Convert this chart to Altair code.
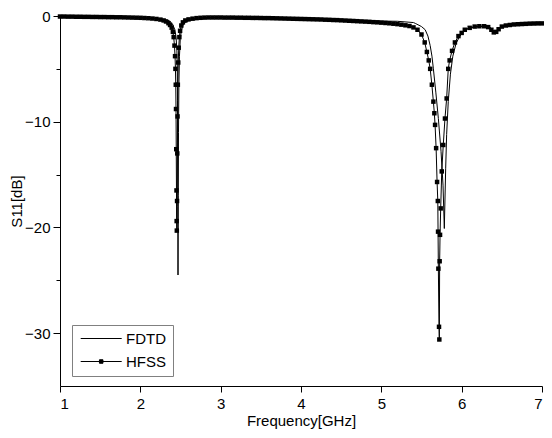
import altair as alt
import pandas as pd

# ---------------- data ----------------
fdtd_freq = [1.00, 1.30, 1.60, 1.90, 2.10, 2.20, 2.30, 2.36, 2.40, 2.43, 2.445, 2.455,
             2.460, 2.463, 2.465, 2.467, 2.469, 2.472, 2.475, 2.480, 2.487, 2.497,
             2.51, 2.53, 2.56, 2.60, 2.65, 2.70, 2.80, 2.90, 3.00, 3.20, 3.50, 4.00,
             4.50, 5.00, 5.20, 5.40, 5.423, 5.50, 5.546, 5.58, 5.608, 5.63, 5.648,
             5.678, 5.71, 5.743, 5.768, 5.784, 5.801, 5.813, 5.833, 5.86, 5.89, 5.93,
             5.97, 6.02, 6.08, 6.15, 6.22, 6.30, 6.35, 6.38, 6.41, 6.44, 6.47, 6.50,
             6.60, 6.80, 7.00]
fdtd_s11 = [-0.05, -0.07, -0.10, -0.14, -0.20, -0.25, -0.33, -0.45, -0.75, -1.3, -2.0, -3.2,
            -5.0, -8.0, -12.0, -18.0, -24.5, -17.0, -11.0, -6.5, -3.8, -2.2,
            -1.4, -0.9, -0.6, -0.45, -0.38, -0.33, -0.25, -0.15, -0.10, -0.12, -0.18, -0.27,
            -0.38, -0.48, -0.50, -0.62, -0.70, -1.0, -1.3, -1.9, -2.8, -3.8, -5.0,
            -7.2, -9.7, -12.8, -16.0, -20.1, -14.4, -11.2, -8.1, -5.5, -3.8, -2.6,
            -2.0, -1.5, -1.2, -1.05, -0.98, -0.98, -1.05, -1.25, -1.45, -1.4, -1.15, -0.95,
            -0.80, -0.68, -0.68]

hfss_freq = [1.00, 1.05, 1.10, 1.15, 1.20, 1.25, 1.30, 1.35, 1.40, 1.45, 1.50, 1.55,
             1.60, 1.65, 1.70, 1.75, 1.80, 1.85, 1.90, 1.95, 2.00, 2.05, 2.10, 2.15,
             2.20, 2.25, 2.29, 2.32, 2.35, 2.37, 2.39, 2.405, 2.415, 2.425, 2.432,
             2.437, 2.441, 2.444, 2.447, 2.450, 2.452, 2.454, 2.457, 2.460, 2.463,
             2.467, 2.472, 2.478, 2.486, 2.495, 2.51, 2.53, 2.56, 2.60, 2.65, 2.70,
             2.75, 2.80, 2.85, 2.90, 2.95, 3.00, 3.05, 3.10, 3.15, 3.20, 3.25, 3.30,
             3.35, 3.40, 3.45, 3.50, 3.55, 3.60, 3.65, 3.70, 3.75, 3.80, 3.85, 3.90,
             3.95, 4.00, 4.05, 4.10, 4.15, 4.20, 4.25, 4.30, 4.35, 4.40, 4.45, 4.50,
             4.55, 4.60, 4.65, 4.70, 4.75, 4.80, 4.85, 4.90, 4.95, 5.00, 5.05, 5.10,
             5.15, 5.20, 5.25, 5.30, 5.35, 5.40, 5.45, 5.50, 5.54, 5.567, 5.59, 5.608,
             5.629, 5.648, 5.66, 5.669, 5.682, 5.694, 5.703, 5.706, 5.710, 5.718,
             5.722, 5.726, 5.731, 5.739, 5.752, 5.771, 5.792, 5.813, 5.833, 5.85,
             5.88, 5.916, 5.96, 6.00, 6.039, 6.10, 6.162, 6.22, 6.28, 6.33, 6.37,
             6.40, 6.43, 6.46, 6.50, 6.55, 6.60, 6.65, 6.70, 6.75, 6.80, 6.85, 6.90,
             6.95, 7.00]
hfss_s11 = [-0.05, -0.05, -0.06, -0.06, -0.07, -0.07, -0.08, -0.08, -0.09, -0.09, -0.10, -0.10,
            -0.11, -0.11, -0.12, -0.12, -0.13, -0.14, -0.15, -0.16, -0.17, -0.19, -0.21, -0.24,
            -0.28, -0.34, -0.42, -0.52, -0.68, -0.85, -1.1, -1.5, -2.0, -2.8, -3.8,
            -5.0, -6.5, -8.8, -12.6, -16.5, -19.4, -20.3, -17.5, -13.0, -9.5,
            -6.5, -4.4, -3.0, -2.0, -1.4, -0.9, -0.6, -0.42, -0.32, -0.25, -0.20,
            -0.17, -0.15, -0.14, -0.14, -0.14, -0.14, -0.15, -0.15, -0.15, -0.16, -0.16, -0.17,
            -0.17, -0.18, -0.18, -0.19, -0.20, -0.20, -0.21, -0.22, -0.23, -0.24, -0.25, -0.26,
            -0.27, -0.28, -0.29, -0.30, -0.31, -0.32, -0.33, -0.35, -0.36, -0.38, -0.39, -0.41,
            -0.43, -0.45, -0.47, -0.49, -0.51, -0.53, -0.55, -0.58, -0.60, -0.63, -0.66, -0.69,
            -0.73, -0.77, -0.82, -0.88, -0.95, -1.08, -1.3, -1.75, -2.5, -3.4, -4.2, -5.0,
            -6.5, -8.1, -9.2, -10.3, -12.5, -15.7, -17.5, -20.4, -23.9, -29.4,
            -30.6, -23.2, -20.7, -18.2, -14.7, -12.2, -9.7, -7.8, -5.0, -4.2,
            -3.3, -2.5, -1.9, -1.6, -1.3, -1.12, -1.0, -0.97, -0.97, -1.05, -1.3,
            -1.55, -1.5, -1.25, -1.0, -0.9, -0.85, -0.8, -0.78, -0.76, -0.74, -0.72, -0.71,
            -0.70, -0.70]

series_names = ["FDTD", "HFSS"]
x_ticks = [1, 2, 3, 4, 5, 6, 7]
y_ticks = [0, -5, -10, -15, -20, -25, -30]

df = pd.concat([
    pd.DataFrame({"freq": fdtd_freq, "s11": fdtd_s11, "series": "FDTD"}),
    pd.DataFrame({"freq": hfss_freq, "s11": hfss_s11, "series": "HFSS"}),
], ignore_index=True)

FONT = "Liberation Sans"
# legend glyphs: a 41 px line, and the same line with a small square marker
FDTD_PATH = "M-4.1,0H4.1"
HFSS_PATH = "M-4.1,0H4.1M-0.35,-0.35H0.35V0.35H-0.35Z"

x_enc = alt.X("freq:Q",
              scale=alt.Scale(domain=[1, 7], nice=False, zero=False),
              axis=alt.Axis(values=x_ticks, title="Frequency[GHz]", format="d",
                            tickSize=6, labelPadding=4, titlePadding=2))
y_enc = alt.Y("s11:Q",
              scale=alt.Scale(domain=[-35, 0], nice=False, zero=False),
              axis=alt.Axis(values=y_ticks, title="S11[dB]",
                            labelExpr="datum.value % 10 === 0 ? datum.label : ''",
                            tickSize={"condition": {"test": "datum.value % 10 === 0", "value": 7},
                                      "value": 4},
                            labelPadding=3, titlePadding=0))

legend = alt.Legend(
    title=None, orient="none", legendX=12, legendY=309,
    labelFont=FONT, labelFontSize=15, labelColor="black",
    symbolSize=100, symbolOffset=15.7, labelOffset=17.3, rowPadding=7,
    padding=6, strokeColor="#808080", fillColor="white",
    symbolStrokeWidth=1, symbolOpacity=1,
)

lines = alt.Chart(df).mark_line(strokeWidth=1, color="black", clip=False).encode(
    x=x_enc, y=y_enc, detail="series:N",
)

points = alt.Chart(df).transform_filter("datum.series === 'HFSS'").mark_point(
    shape="square", filled=True, size=20, color="black", opacity=1, clip=False
).encode(x=x_enc, y=y_enc)

# carries only the legend (no rows pass the filter)
legend_layer = alt.Chart(df).transform_filter("false").mark_point(
    filled=False, fill="black", stroke="black", strokeWidth=1, size=100, opacity=1
).encode(
    x=x_enc, y=y_enc,
    shape=alt.Shape("series:N",
                    scale=alt.Scale(domain=series_names, range=[FDTD_PATH, HFSS_PATH]),
                    legend=legend),
)

# total drawing size 536 x 422 so the page does not rescale it
chart = alt.layer(lines, points, legend_layer).properties(
    width=482, height=370,
    autosize=alt.AutoSizeParams(type="none"),
    padding={"left": 52, "top": 8, "right": 2, "bottom": 44},
).configure_view(stroke=None).configure_axis(
    grid=False, domainColor="black", tickColor="black", labelColor="black",
    titleColor="black", labelFont=FONT, titleFont=FONT, labelFontSize=15,
    titleFontSize=15, titleFontWeight="normal", domainWidth=1, tickWidth=1,
)

chart.save("out.html", embed_options={"renderer": "svg", "actions": False})
